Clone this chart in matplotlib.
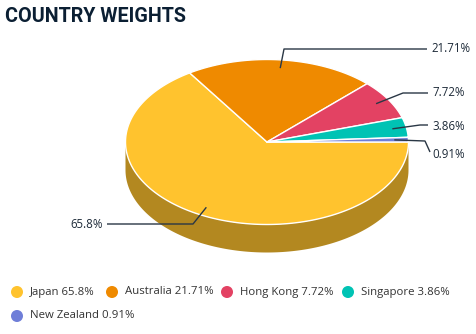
"""
Country weights shown as a tilted 3D-style pie, with a title and a
two-row legend underneath.
"""

import matplotlib

matplotlib.use("Agg")

import matplotlib.pyplot as plt
import numpy as np
from matplotlib.colors import to_rgb
from matplotlib.patches import Polygon

countries = ["Japan", "Australia", "Hong Kong", "Singapore", "New Zealand"]
weights = [65.8, 21.71, 7.72, 3.86, 0.91]
value_labels = ["65.8%", "21.71%", "7.72%", "3.86%", "0.91%"]
colors = ["#ffc32e", "#ef8a00", "#e34263", "#00c3b4", "#6f7ed8"]

# pie geometry in pixel coordinates
CX, CY = 267, 142
RX, RY = 141.5, 82.5
DEPTH = 28
ANCHOR = 0.9

# label layout: (text x, text y, elbow x, elbow y, ha)
label_layout = [
    (103, 225, 193, 224, "right"),
    (431, 49, 284, 49, "left"),
    (432, 93, 403, 93, "left"),
    (432, 126, 420, 125, "left"),
    (432, 154, 425, 141, "left"),
]
legend_pos = [(17, 292), (112, 292), (227, 292), (348, 292), (17, 316)]

TEXT_DARK = "#1d2a38"
LINE_DARK = "#2a3745"


def ellipse_pts(t0, t1, dy=0.0, n=200):
    t = np.radians(np.linspace(t0, t1, n))
    return np.column_stack([CX + RX * np.cos(t), CY - RY * np.sin(t) + dy])


def darken(c, f=0.7):
    return tuple(v * f for v in to_rgb(c))


fig = plt.figure(figsize=(4.76, 3.34), dpi=100)
ax = fig.add_axes([0, 0, 1, 1])
ax.set_xlim(0, 476)
ax.set_ylim(334, 0)
ax.axis("off")

total = sum(weights)
bounds = np.concatenate([[0], np.cumsum(weights)]) / total * -360.0  # clockwise from 3 o'clock

# side walls (only the front half is visible)
for i, c in enumerate(colors):
    a0, a1 = bounds[i], bounds[i + 1]
    for lo, hi in [(-180, 0), (-540, -360)]:
        s0, s1 = max(a1, lo), min(a0, hi)
        if s1 > s0:
            top = ellipse_pts(s0, s1)
            bot = ellipse_pts(s1, s0, dy=DEPTH)
            ax.add_patch(Polygon(np.vstack([top, bot]), closed=True,
                                 facecolor=darken(c), edgecolor="none", zorder=1))

# top faces
for i, c in enumerate(colors):
    arc = ellipse_pts(bounds[i], bounds[i + 1])
    pts = np.vstack([[CX, CY], arc])
    ax.add_patch(Polygon(pts, closed=True, facecolor=c, edgecolor="white",
                         linewidth=1.0, joinstyle="round", zorder=2))

# data labels with connectors
for i, txt in enumerate(value_labels):
    mid = np.radians((bounds[i] + bounds[i + 1]) / 2)
    px = CX + ANCHOR * RX * np.cos(mid)
    py = CY - ANCHOR * RY * np.sin(mid)
    tx, ty, ex, ey, ha = label_layout[i]
    end_x = tx + 4 if ha == "right" else tx - 4
    if i == 4:
        xs, ys = [px, ex, tx - 2], [py, ey, ty - 2]
    else:
        xs, ys = [px, ex, end_x], [py, ey, ey]
    ax.plot(xs, ys, color=LINE_DARK, linewidth=1.0, zorder=3,
            solid_capstyle="butt")
    ax.text(tx, ty, txt, ha=ha, va="center", fontsize=8.3,
            family="Open Sans", color=TEXT_DARK, zorder=4)

ax.text(5, 17, "COUNTRY WEIGHTS", ha="left", va="center", fontsize=14.2,
        family="Roboto", fontweight="bold", color="#0b1f33")

for (lx, ly), name, w, c in zip(legend_pos, countries, weights, colors):
    ax.scatter([lx], [ly], s=75, color=c, edgecolors="none", zorder=3)
    ax.text(lx + 13, ly, f"{name} {w}%", ha="left", va="center",
            fontsize=8.2, family="Open Sans", color="#333333")

fig.savefig("out.png", dpi=100)
